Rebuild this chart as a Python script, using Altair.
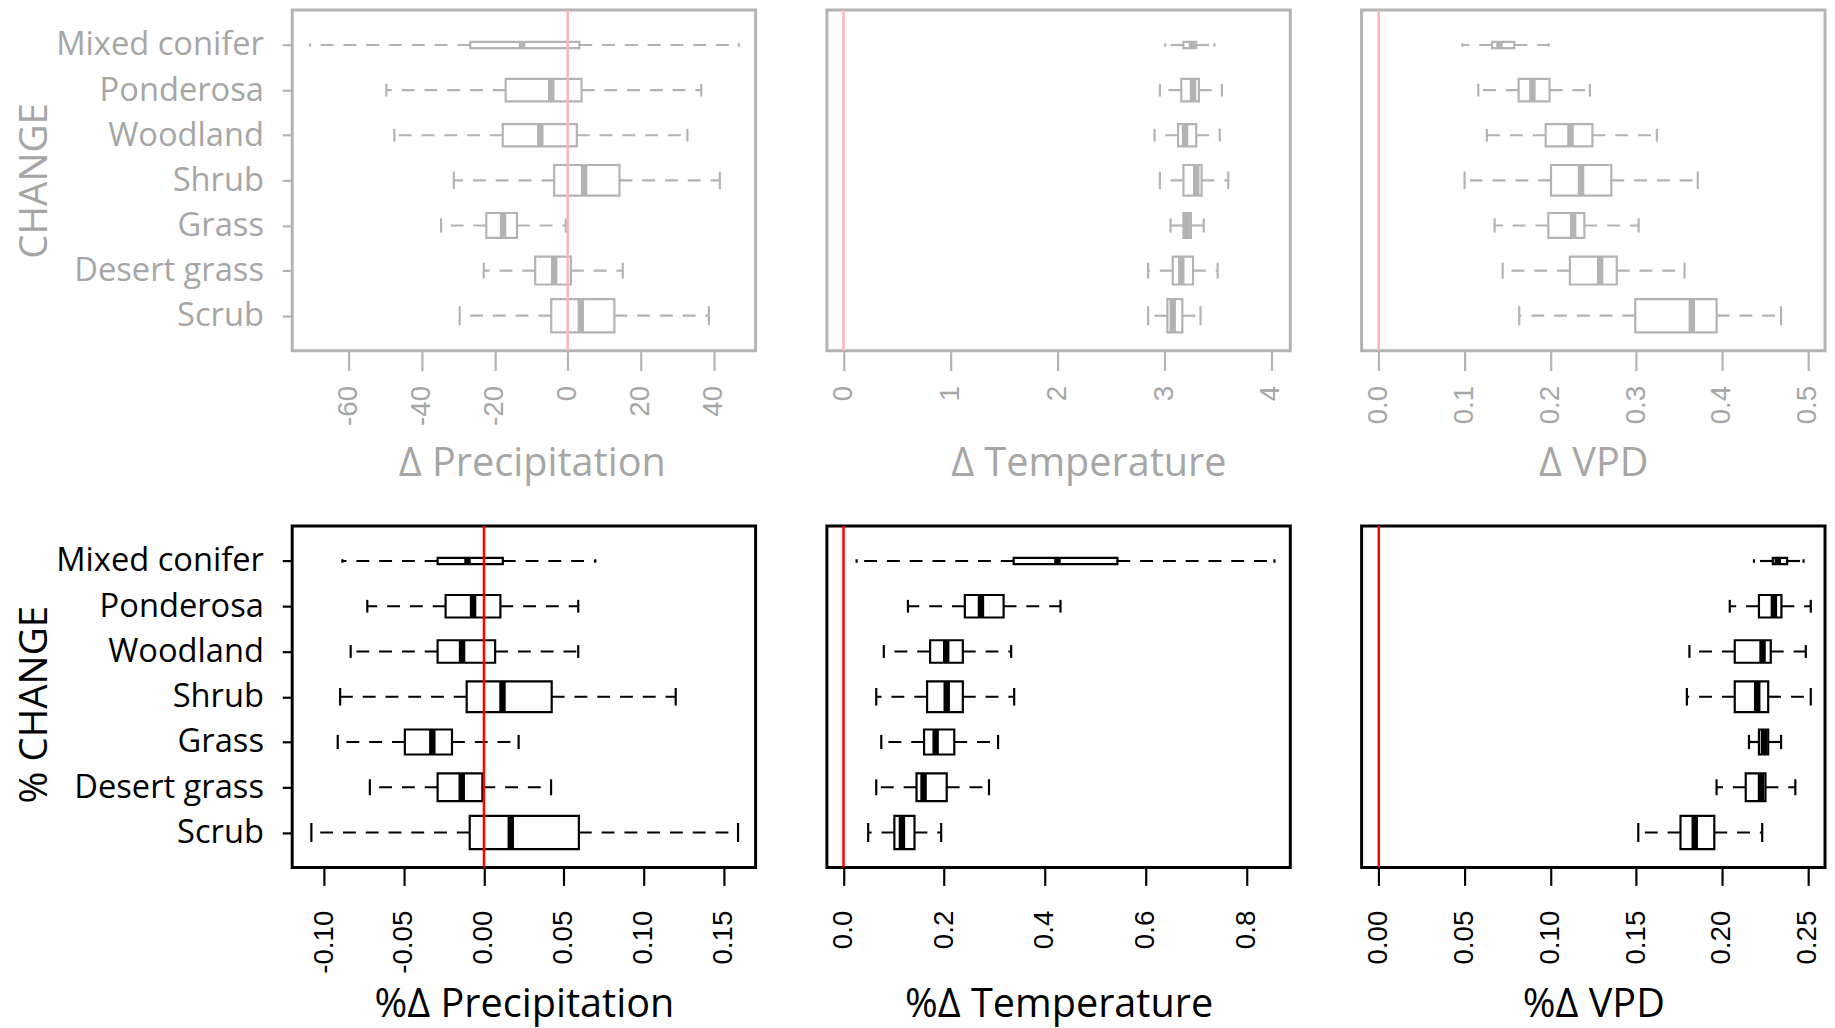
import json
import altair as alt
import pandas as pd

# ---------------- data ----------------
categories = ["Mixed conifer", "Ponderosa", "Woodland", "Shrub", "Grass", "Desert grass", "Scrub"]
# relative box widths (varwidth, ~sqrt(n))
box_rel_width = [0.17, 0.62, 0.62, 0.85, 0.69, 0.77, 0.92]

# Δ Precipitation
dp_lo = [-70.6, -49.7, -47.5, -31.2, -34.7, -23.0, -29.6]
dp_q1 = [-26.7, -17.0, -17.8, -3.7, -22.3, -8.9, -4.5]
dp_med = [-12.5, -4.5, -7.5, 4.5, -17.7, -3.7, 3.6]
dp_q3 = [3.2, 3.8, 2.5, 14.2, -13.9, 0.9, 12.8]
dp_hi = [46.9, 36.6, 32.8, 41.7, -0.5, 15.1, 38.7]

# Δ Temperature
dt_lo = [3.01, 2.96, 2.91, 2.96, 3.06, 2.85, 2.85]
dt_q1 = [3.18, 3.16, 3.13, 3.18, 3.18, 3.08, 3.03]
dt_med = [3.26, 3.27, 3.195, 3.30, 3.21, 3.16, 3.08]
dt_q3 = [3.30, 3.325, 3.30, 3.35, 3.25, 3.27, 3.17]
dt_hi = [3.47, 3.54, 3.52, 3.60, 3.37, 3.50, 3.34]

# Δ VPD
dv_lo = [0.0975, 0.116, 0.126, 0.100, 0.135, 0.1444, 0.1637]
dv_q1 = [0.132, 0.163, 0.1945, 0.2007, 0.1976, 0.2227, 0.2989]
dv_med = [0.1406, 0.179, 0.2234, 0.2357, 0.2265, 0.258, 0.3648]
dv_q3 = [0.158, 0.199, 0.249, 0.271, 0.2396, 0.2773, 0.3937]
dv_hi = [0.198, 0.246, 0.324, 0.3717, 0.3028, 0.3563, 0.4688]

# %Δ Precipitation
pp_lo = [-0.0886, -0.073, -0.0834, -0.090, -0.0915, -0.0714, -0.108]
pp_q1 = [-0.029, -0.024, -0.029, -0.0108, -0.0495, -0.029, -0.0089]
pp_med = [-0.0103, -0.0068, -0.0137, 0.0116, -0.0323, -0.0139, 0.0168]
pp_q3 = [0.0118, 0.0103, 0.007, 0.0424, -0.020, -0.001, 0.0594]
pp_hi = [0.0697, 0.059, 0.059, 0.120, 0.0217, 0.042, 0.159]

# %Δ Temperature
pt_lo = [0.026, 0.128, 0.080, 0.065, 0.075, 0.065, 0.049]
pt_q1 = [0.338, 0.241, 0.172, 0.166, 0.160, 0.145, 0.101]
pt_med = [0.425, 0.273, 0.204, 0.205, 0.183, 0.159, 0.116]
pt_q3 = [0.544, 0.318, 0.237, 0.237, 0.220, 0.205, 0.141]
pt_hi = [0.856, 0.431, 0.333, 0.339, 0.307, 0.289, 0.194]

# %Δ VPD
pv_lo = [0.2186, 0.2045, 0.181, 0.1795, 0.2157, 0.1968, 0.1512]
pv_q1 = [0.2296, 0.2215, 0.2074, 0.2074, 0.2215, 0.2138, 0.1758]
pv_med = [0.2325, 0.2302, 0.2236, 0.2205, 0.2244, 0.2227, 0.1841]
pv_q3 = [0.2379, 0.2346, 0.2284, 0.2269, 0.2269, 0.2253, 0.1955]
pv_hi = [0.2475, 0.2517, 0.2488, 0.2517, 0.2344, 0.2427, 0.2234]

# axis ticks
dp_ticks = [-60, -40, -20, 0, 20, 40]
dt_ticks = [0, 1, 2, 3, 4]
dv_ticks = [0.0, 0.1, 0.2, 0.3, 0.4, 0.5]
pp_ticks = [-0.10, -0.05, 0.00, 0.05, 0.10, 0.15]
pt_ticks = [0.0, 0.2, 0.4, 0.6, 0.8]
pv_ticks = [0.00, 0.05, 0.10, 0.15, 0.20, 0.25]

# ---------------- styling ----------------
GRAY_LINE = "#b3b3b3"
GRAY_TEXT = "#a6a6a6"
PINK = "#ffb3b3"
BLACK = "#000000"
RED = "#ff0000"
TEXT_FONT = "Open Sans"
TICK_FONT = "Liberation Sans"
W = 468
N = len(categories)
names_js = json.dumps(categories[::-1])  # index by position-1 (Scrub at bottom = 1)


def make_df(lo, q1, med, q3, hi):
    rows = []
    for i, c in enumerate(categories):
        pos = N - i
        w = box_rel_width[i]
        rows.append(dict(cat=c, pos=pos, lo=lo[i], q1=q1[i], med=med[i], q3=q3[i], hi=hi[i],
                         b_lo=pos - 0.4 * w, b_hi=pos + 0.4 * w,
                         s_lo=pos - 0.4 * w * 0.57, s_hi=pos + 0.4 * w * 0.57))
    return pd.DataFrame(rows)


def panel(df, domain, ticks, decimals, title, line_c, text_c, red_c, height,
          tick_size, label_pad, title_y, title_x=None, ytitle=None, ytitle_y=None):
    if decimals == 0:
        lab = "datum.value < 0 ? '-' + format(-datum.value, 'd') : format(datum.value, 'd')"
    else:
        f = ".%df" % decimals
        lab = "datum.value < 0 ? '-' + format(-datum.value, '%s') : format(datum.value, '%s')" % (f, f)
    ax_kwargs = dict(values=ticks, labelExpr=lab, grid=False, domain=False,
                     tickSize=tick_size, tickWidth=2.2, tickColor=line_c,
                     labelAngle=270, labelAlign="right", labelBaseline="middle",
                     labelFont=TICK_FONT, labelFontSize=28, labelColor=text_c,
                     labelPadding=label_pad, labelOverlap=False, labelFlush=False, labelBound=False,
                     title=title, titleFont=TEXT_FONT, titleFontSize=40, titleFontWeight="normal",
                     titleColor=text_c, titleY=title_y, titleBaseline="alphabetic")
    if title_x is not None:
        ax_kwargs["titleX"] = title_x
    x_axis = alt.Axis(**ax_kwargs)
    x_scale = alt.Scale(domain=domain, nice=False, zero=False)
    y_scale = alt.Scale(domain=[0.225, 7.775], nice=False, zero=False)
    if ytitle is not None:
        y_axis = alt.Axis(values=list(range(1, N + 1)), labelExpr=names_js + "[datum.value - 1]",
                          grid=False, domain=False, tickSize=10, tickWidth=2.2, tickColor=line_c,
                          labelFont=TEXT_FONT, labelFontSize=33, labelColor=text_c, labelPadding=19,
                          labelBaseline="middle", labelLimit=400,
                          title=ytitle, titleFont=TEXT_FONT, titleFontSize=39, titleFontWeight="normal",
                          titleColor=text_c, titleAngle=270, titleBaseline="alphabetic",
                          titleX=-248, titleY=ytitle_y, titleAlign="center")
    else:
        y_axis = None

    base = alt.Chart(df)
    xq = lambda f: alt.X(f + ":Q", scale=x_scale, axis=x_axis)
    yq = lambda f: alt.Y(f + ":Q", scale=y_scale, axis=y_axis)

    wl = base.mark_rule(color=line_c, strokeWidth=2.2, strokeDash=[13, 10]).encode(
        x=xq("q1"), x2="lo", y=yq("pos"))
    wh = base.mark_rule(color=line_c, strokeWidth=2.2, strokeDash=[13, 10]).encode(
        x=xq("q3"), x2="hi", y=yq("pos"))
    sl = base.mark_rule(color=line_c, strokeWidth=2.2).encode(x=xq("lo"), y=yq("s_lo"), y2="s_hi")
    sh = base.mark_rule(color=line_c, strokeWidth=2.2).encode(x=xq("hi"), y=yq("s_lo"), y2="s_hi")
    box = base.mark_rect(fill="white", stroke=line_c, strokeWidth=2.2).encode(
        x=xq("q1"), x2="q3", y=yq("b_lo"), y2="b_hi")
    med = base.mark_rule(color=line_c, strokeWidth=6.5).encode(x=xq("med"), y=yq("b_lo"), y2="b_hi")
    zero = alt.Chart(pd.DataFrame({"z": [0]})).mark_rule(color=red_c, strokeWidth=2.5).encode(
        x=xq("z"))
    return alt.layer(wl, wh, sl, sh, box, med, zero).properties(
        width=W, height=height,
        view=alt.ViewBackground(stroke=line_c, strokeWidth=3, fill="white"))


p1 = panel(make_df(dp_lo, dp_q1, dp_med, dp_q3, dp_hi), [-75.5, 51.5], dp_ticks, 0, "Δ Precipitation",
           GRAY_LINE, GRAY_TEXT, PINK, 344, 20, 15, 126, title_x=242, ytitle="CHANGE", ytitle_y=172)
p2 = panel(make_df(dt_lo, dt_q1, dt_med, dt_q3, dt_hi), [-0.155, 4.18], dt_ticks, 0, "Δ Temperature",
           GRAY_LINE, GRAY_TEXT, PINK, 344, 20, 15, 126, title_x=264)
p3 = panel(make_df(dv_lo, dv_q1, dv_med, dv_q3, dv_hi), [-0.02, 0.52], dv_ticks, 1, "Δ VPD",
           GRAY_LINE, GRAY_TEXT, PINK, 344, 20, 15, 126)
p4 = panel(make_df(pp_lo, pp_q1, pp_med, pp_q3, pp_hi), [-0.12, 0.17], pp_ticks, 2, "%Δ Precipitation",
           BLACK, BLACK, RED, 345, 18, 25, 150, ytitle="% CHANGE", ytitle_y=180)
p5 = panel(make_df(pt_lo, pt_q1, pt_med, pt_q3, pt_hi), [-0.033, 0.8875], pt_ticks, 1, "%Δ Temperature",
           BLACK, BLACK, RED, 345, 18, 25, 150)
p6 = panel(make_df(pv_lo, pv_q1, pv_med, pv_q3, pv_hi), [-0.01, 0.26], pv_ticks, 2, "%Δ VPD",
           BLACK, BLACK, RED, 345, 18, 25, 150)

top = alt.hconcat(p1, p2, p3, spacing=68)
bottom = alt.hconcat(p4, p5, p6, spacing=68)
chart = alt.vconcat(top, bottom, spacing=38).properties(
    padding={"left": 6, "top": -6, "right": 0, "bottom": 0}
).configure(background="white")

chart.save("out.html", embed_options={"renderer": "svg", "actions": False})
